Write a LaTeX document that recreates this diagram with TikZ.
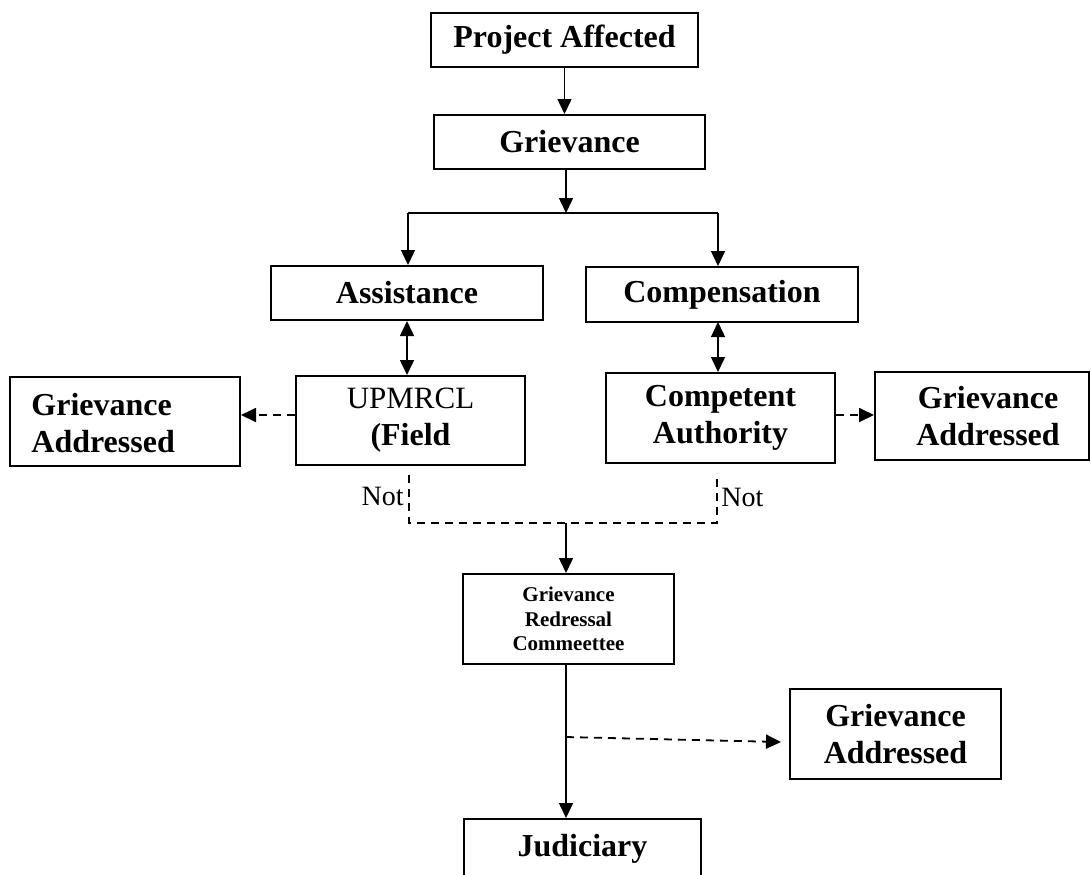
\documentclass[tikz,border=0pt]{standalone}
\usepackage{fontspec}
\setmainfont{Liberation Serif}
\usetikzlibrary{arrows.meta}
\begin{document}
\begin{tikzpicture}[x=0.5pt,y=-0.5pt,
  box/.style={draw, line width=1pt, inner sep=0pt, align=center,
    font=\fontsize{16}{18.5}\selectfont\bfseries},
  txt/.style={inner sep=0pt, align=center, font=\fontsize{16}{18.5}\selectfont\bfseries},
  arr/.style={line width=0.75pt, -{Triangle[length=7.5pt,width=7pt]}},
  darr/.style={line width=0.75pt, {Triangle[length=7.5pt,width=7pt]}-{Triangle[length=7.5pt,width=7pt]}},
  dsh/.style={line width=0.9pt, dash pattern=on 4pt off 3pt},
  lbl/.style={font=\fontsize{14}{16}\selectfont, inner sep=0pt}
]
\useasboundingbox (0,0) rectangle (1091,874);
\clip (0,0) rectangle (1091,874);

% nodes
\node[box, minimum width=133.5pt, minimum height=27pt] (proj) at (564.5,40) {Project Affected};
\node[box, minimum width=135.5pt, minimum height=27pt] (griev) at (569.5,142) {Grievance};
\node[box, minimum width=136pt, minimum height=27pt] (assist) at (407,293) {Assistance};
\node[box, minimum width=136pt, minimum height=27.5pt] (comp) at (722,294.5) {Compensation};
\node[box, minimum width=114.5pt, minimum height=44.5pt] (upm) at (410.5,420.5)
  {{\fontsize{15.5}{16}\selectfont\mdseries UPMRCL}\\(Field};
\node[box, minimum width=114.5pt, minimum height=45pt] (ca) at (720.5,418) {Competent\\Authority};
\node[box, minimum width=115pt, minimum height=44.5pt] (ga1) at (125,421.5) {};
\node[txt, align=left, anchor=west] (ga1t) at (31,423) {Grievance\\Addressed};
\node[box, minimum width=107pt, minimum height=44pt] (ga2) at (982,416) {};
\node[txt] (ga2t) at (988,416) {Grievance\\Addressed};
\node[box, minimum width=105.5pt, minimum height=45pt, font=\fontsize{10.5}{12.3}\selectfont\bfseries] (grc) at (568.5,619)
  {Grievance\\Redressal\\Commeettee};
\node[box, minimum width=105.5pt, minimum height=45pt] (ga3) at (895.5,734) {Grievance\\Addressed};
\node[box, minimum width=118.5pt, minimum height=30pt] (jud) at (582.5,849) {Judiciary};

% coordinates
\coordinate (j) at (566,213);
\coordinate (jl) at (408,213);
\coordinate (jr) at (718,213);
\coordinate (ar) at (718,322);
\coordinate (l1) at (297,415);
\coordinate (r1) at (835,415);
\coordinate (n1) at (409,475);
\coordinate (n2) at (717,473);
\coordinate (m) at (566,523);
\coordinate (d0) at (566,737);
\coordinate (d1) at (781,742);

% connectors
\draw[arr] (proj.south) -- (proj.south |- griev.north);
\draw[arr] (j |- griev.south) -- (j);
\draw[line width=0.75pt] (jl) -- (jr);
\draw[arr] (jl) -- (jl |- assist.north);
\draw[arr] (jr) -- (jr |- comp.north);
\draw[darr] (assist.south) -- (assist.south |- upm.north);
\draw[darr] (ar) -- (ar |- ca.north);
\draw[dsh, -{Triangle[length=7.5pt,width=7pt]}] (l1 -| upm.west) -- (l1 -| ga1.east);
\draw[dsh, -{Triangle[length=7.5pt,width=7pt]}] (r1 -| ca.east) -- (r1 -| ga2.west);
\draw[dsh] (n1) -- (n1 |- m) -- (n2 |- m) -- (n2);
\node[lbl, anchor=east] (not1) at (404,496) {Not};
\node[lbl, anchor=west] (not2) at (721,497) {Not};
\draw[arr] (m) -- (m |- grc.north);
\draw[arr] (m |- grc.south) -- (m |- jud.north);
\draw[dsh, -{Triangle[length=7.5pt,width=7pt]}] (d0) -- (d1);
\end{tikzpicture}
\end{document}
